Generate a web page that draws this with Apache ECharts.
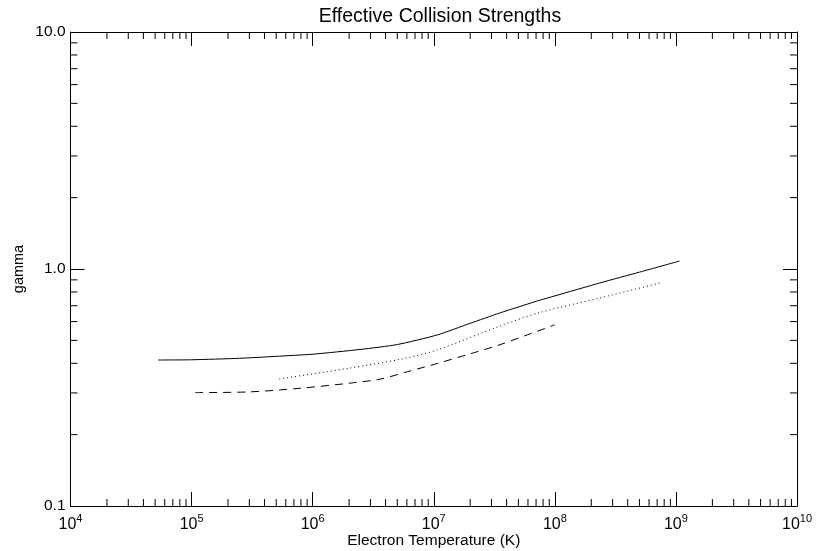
<html>
<head>
  <meta charset="utf-8">
  <style>
    html, body { margin: 0; padding: 0; background: #fff; }
    #container { width: 817px; height: 551px; }
  </style>
</head>
<body>
<div id="container"></div>
<script type="text/javascript" src="https://cdn.jsdelivr.net/npm/echarts@6/dist/echarts.min.js"></script>
<script type="text/javascript">
  // electron temperature (K) and effective collision strength
  const solidT     = [5.3e4, 1e5, 2.5e5, 5e5, 1e6, 2.5e6, 5e6, 1.07e7, 2e7, 3.5e7, 7.6e7, 1e8, 2.35e8, 5e8, 1.07e9];
  const solidGamma = [0.413, 0.414, 0.42, 0.428, 0.437, 0.458, 0.48, 0.527, 0.59, 0.652, 0.74, 0.77, 0.873, 0.97, 1.08];

  const dottedT     = [5.3e5, 1.0e6, 2.03e6, 5.3e6, 1.06e7, 3.5e7, 7.5e7, 2.36e8, 7.4e8];
  const dottedGamma = [0.344, 0.361, 0.382, 0.416, 0.455, 0.574, 0.655, 0.755, 0.873];

  const dashedT     = [1.07e5, 3.0e5, 7.9e5, 2.04e6, 3.6e6, 6.1e6, 1.08e7, 1.92e7, 3.3e7, 5.9e7, 1.0e8];
  const dashedGamma = [0.301, 0.303, 0.314, 0.330, 0.343, 0.369, 0.400, 0.436, 0.474, 0.527, 0.581];

  // minor tick values (2..9 per decade)
  const xMinor = [];
  for (let e = 4; e < 10; e++) for (let m = 2; m <= 9; m++) xMinor.push(m * Math.pow(10, e));
  const yMinor = [];
  for (let e = -1; e < 1; e++) for (let m = 2; m <= 9; m++) yMinor.push(m * Math.pow(10, e));

  const pairs = (xs, ys) => xs.map((x, i) => [x, ys[i]]);

  const chart = echarts.init(document.getElementById('container'), null, { renderer: 'canvas' });

  const font = 'Liberation Sans, Arial, Helvetica, sans-serif';
  const black = '#000';

  const xBase = {
    type: 'log', logBase: 10, min: 1e4, max: 1e10, splitNumber: 6,
    axisLine: { show: true, lineStyle: { color: black, width: 1 } },
    axisTick: { show: true, inside: true, length: 14, lineStyle: { color: black } },
    splitLine: { show: false }
  };
  const yBase = {
    type: 'log', logBase: 10, min: 0.1, max: 10, splitNumber: 2,
    axisLine: { show: true, lineStyle: { color: black, width: 1 } },
    axisTick: { show: true, inside: true, length: 14, lineStyle: { color: black } },
    splitLine: { show: false }
  };

  function minorTicks(params, api) {
    const cs = params.coordSys;
    const p = api.coord([api.value(0), api.value(1)]);
    const isX = api.value(2) === 0;
    const len = 7;
    const style = { stroke: black, lineWidth: 1 };
    if (isX) {
      return { type: 'group', children: [
        { type: 'line', shape: { x1: p[0], y1: cs.y + cs.height, x2: p[0], y2: cs.y + cs.height - len }, style: style },
        { type: 'line', shape: { x1: p[0], y1: cs.y, x2: p[0], y2: cs.y + len }, style: style }
      ] };
    }
    return { type: 'group', children: [
      { type: 'line', shape: { x1: cs.x, y1: p[1], x2: cs.x + len, y2: p[1] }, style: style },
      { type: 'line', shape: { x1: cs.x + cs.width, y1: p[1], x2: cs.x + cs.width - len, y2: p[1] }, style: style }
    ] };
  }

  const tickData = xMinor.map(v => [v, 1, 0]).concat(yMinor.map(v => [1e5, v, 1]));

  const option = {
    animation: false,
    backgroundColor: '#fff',
    textStyle: { fontFamily: font, color: black },
    title: {
      text: 'Effective Collision Strengths',
      left: 435, top: 2, textAlign: 'center',
      textStyle: { fontFamily: font, fontSize: 19.5, fontWeight: 'normal', color: black }
    },
    grid: { left: 70.5, right: 20, top: 32, bottom: 45, containLabel: false, outerBoundsMode: 'none' },
    xAxis: [
      Object.assign({}, xBase, {
        position: 'bottom',
        name: 'Electron Temperature (K)', nameLocation: 'middle', nameGap: 27, nameMoveOverlap: false,
        nameTextStyle: { fontFamily: font, fontSize: 15.5, color: black },
        axisLabel: {
          show: true, margin: 7, color: black,
          formatter: v => '{b|10}{s|' + Math.round(Math.log10(v)) + '}',
          rich: {
            b: { fontFamily: font, fontSize: 16, color: black, lineHeight: 20, verticalAlign: 'bottom' },
            s: { fontFamily: font, fontSize: 11, color: black, lineHeight: 20, verticalAlign: 'top', padding: [0, 0, 7, 0] }
          }
        }
      }),
      Object.assign({}, xBase, { position: 'top', axisLabel: { show: false } })
    ],
    yAxis: [
      Object.assign({}, yBase, {
        position: 'left',
        name: 'gamma', nameLocation: 'middle', nameGap: 44, nameRotate: 90, nameMoveOverlap: false,
        nameTextStyle: { fontFamily: font, fontSize: 14.5, color: black },
        axisLabel: { show: true, margin: 5, fontFamily: font, fontSize: 15.5, color: black, formatter: v => v.toFixed(1) }
      }),
      Object.assign({}, yBase, { position: 'right', axisLabel: { show: false } })
    ],
    series: [
      {
        type: 'custom', renderItem: minorTicks, data: tickData,
        xAxisIndex: 0, yAxisIndex: 0, silent: true, clip: false, z: 1
      },
      {
        name: 'solid', type: 'line', data: pairs(solidT, solidGamma), showSymbol: false, smooth: 0.2,
        lineStyle: { color: black, width: 1, type: 'solid' }
      },
      {
        name: 'dotted', type: 'line', data: pairs(dottedT, dottedGamma), showSymbol: false, smooth: 0.3,
        lineStyle: { color: black, width: 1, type: [1, 3] }
      },
      {
        name: 'dashed', type: 'line', data: pairs(dashedT, dashedGamma), showSymbol: false, smooth: 0.3,
        lineStyle: { color: black, width: 1, type: [8, 6] }
      }
    ]
  };

  chart.setOption(option);
</script>
</body>
</html>
